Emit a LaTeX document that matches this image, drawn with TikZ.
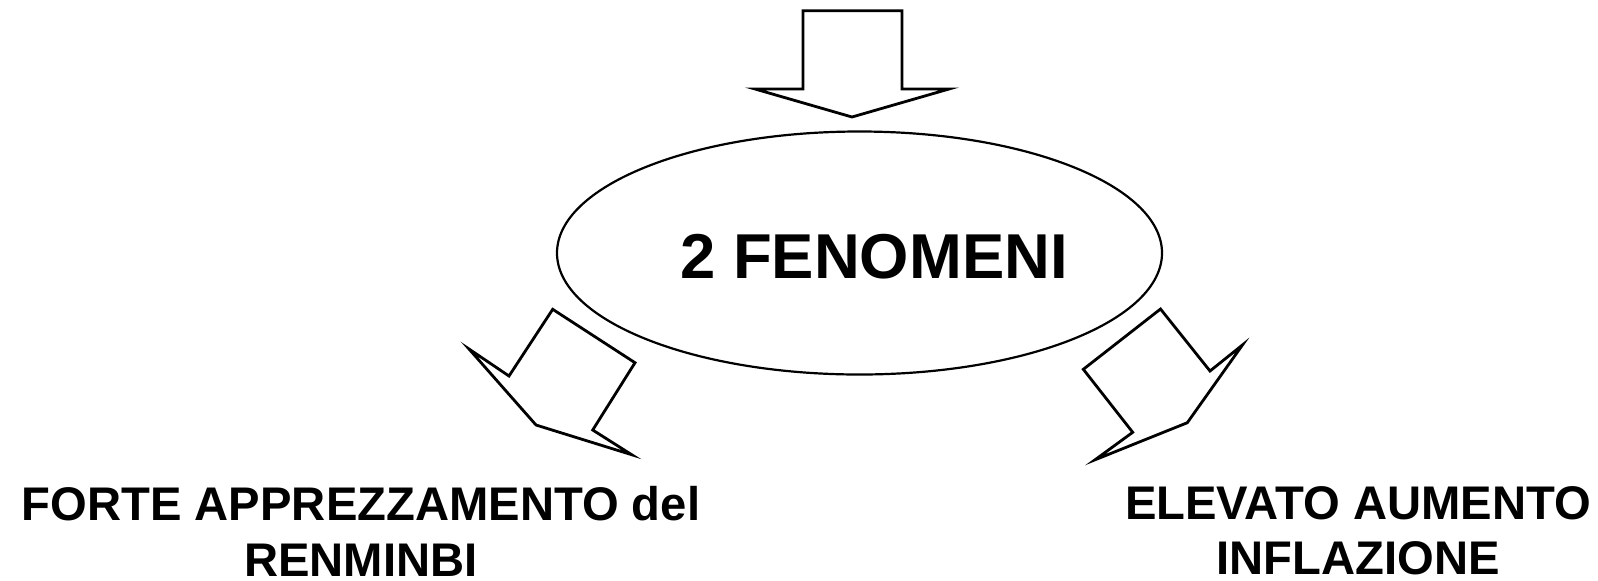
\documentclass[tikz,border=0pt]{standalone}
\usepackage{fontspec}
\setmainfont{Liberation Sans}
\usepackage{tikz}
\usetikzlibrary{shapes.geometric}

\begin{document}
\begin{tikzpicture}[x=0.5pt,y=-0.5pt,
  freccia/.style={draw=black,line width=1.4pt,fill=white,line join=miter},
  fenomeno/.style={ellipse,draw=black,line width=1.1pt,minimum width=302.5pt,minimum height=121.5pt,inner sep=0pt},
  titolo/.style={font=\bfseries\fontsize{31.7}{37}\selectfont,inner sep=0pt},
  effetto/.style={font=\bfseries\fontsize{23.6}{27.8}\selectfont,align=center,inner sep=0pt,anchor=north}]
\useasboundingbox (0,0) rectangle (1598,580);
\node[fenomeno] (fen) at (859.5,253) {};
\node[titolo,anchor=base] (fentxt) at (874,278) {2 FENOMENI};
\draw[freccia] (803,10.7) -- (902,10.7) -- (902,89) -- (949,89) -- (852,117) -- (755,89) -- (803,89) -- cycle;
\draw[freccia] (469,349) -- (509,376) -- (552.7,309.3) -- (635,362.7) -- (592.7,430) -- (631.7,454.7) -- (536,425) -- cycle;
\draw[freccia] (1083.3,369.3) -- (1160.5,309) -- (1210,371) -- (1242.5,344.9) -- (1187.3,422.7) -- (1095,459.8) -- (1132.7,432.3) -- cycle;
\node[effetto] (renminbi) at (361,486) {FORTE APPREZZAMENTO del\\RENMINBI};
\node[effetto] (inflazione) at (1358,486) {ELEVATO AUMENTO\\INFLAZIONE};
\end{tikzpicture}
\end{document}
